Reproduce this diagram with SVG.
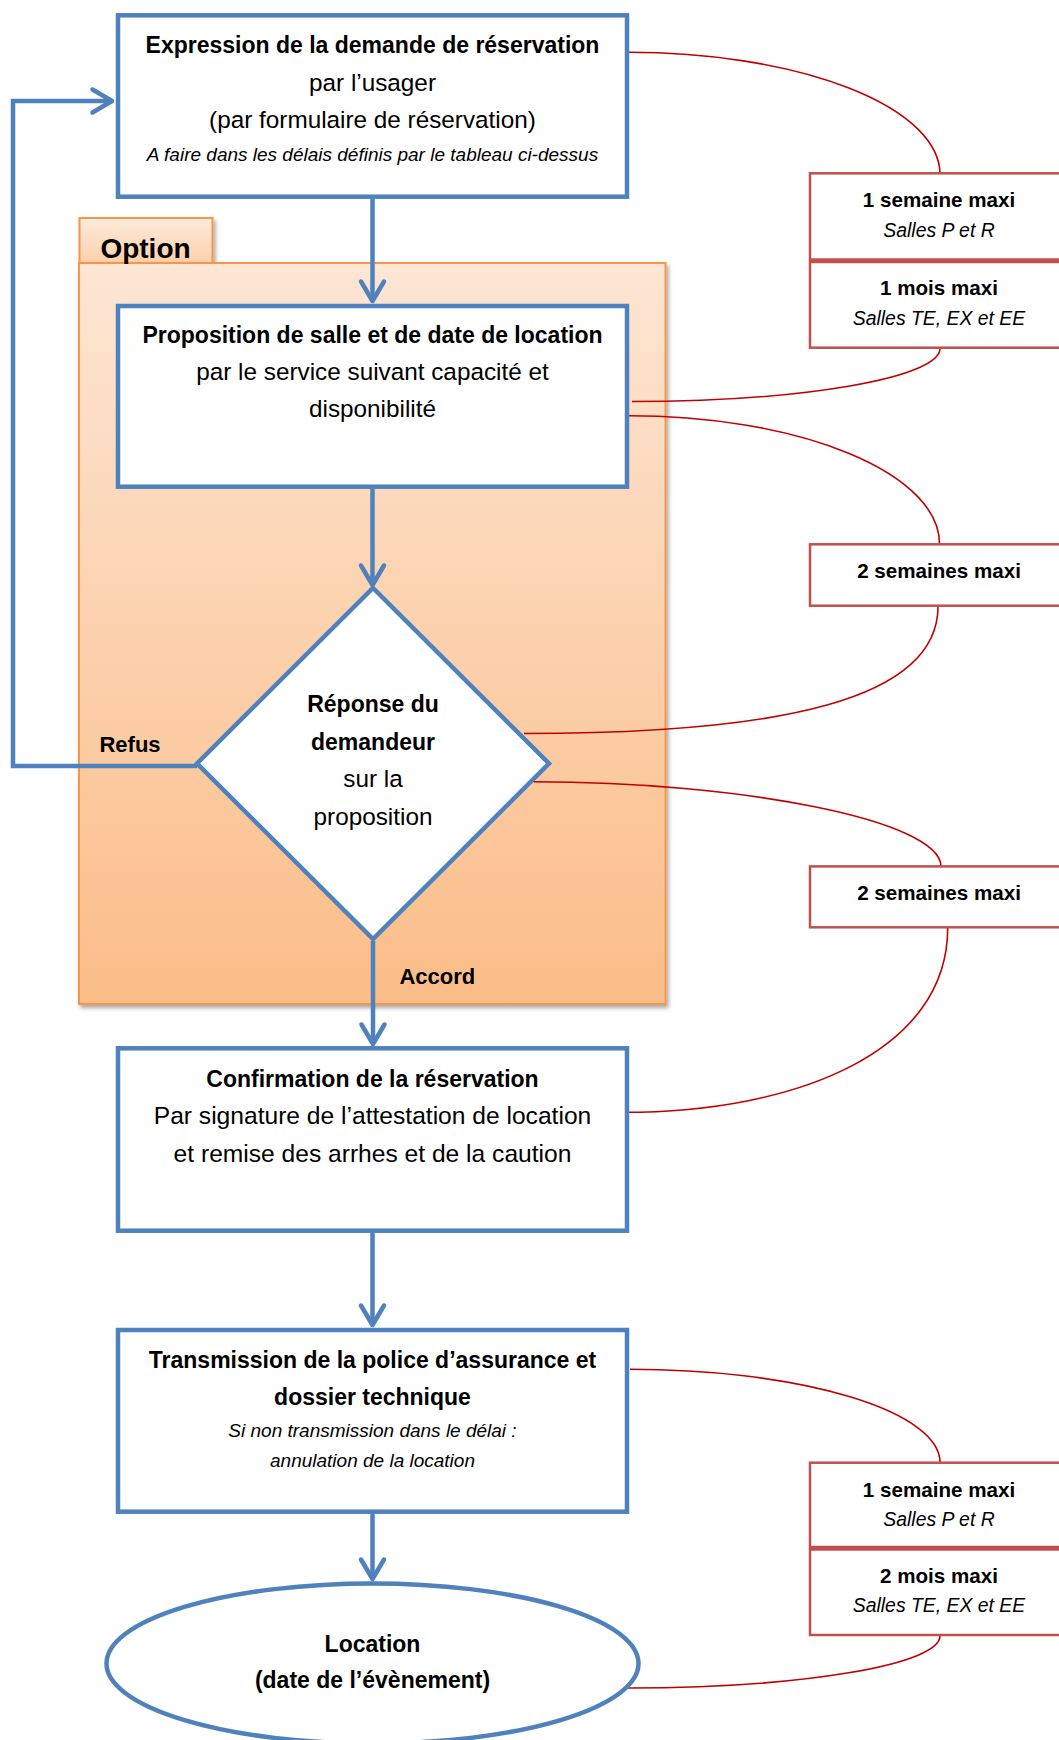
<svg xmlns="http://www.w3.org/2000/svg" width="1059" height="1740" viewBox="0 0 1059 1740">
<defs>
<style>
text{font-family:"Liberation Sans",Arial,sans-serif;fill:#000;text-anchor:middle}
.b{font-weight:bold;font-size:23px}
.r{font-size:24.3px}
.i{font-style:italic;font-size:19px}
.rb{font-weight:bold;font-size:20.6px}
.ri{font-style:italic;font-size:19.4px}
.node{fill:#fff;stroke:#4f81bd;stroke-width:4.5}
.flow{fill:none;stroke:#4f81bd;stroke-width:4.5;marker-end:url(#ah)}
.red{fill:#fff;stroke:#c0504d;stroke-width:2.5}
.div{stroke:#c0504d;stroke-width:5}
.lnk{fill:none;stroke:#c00000;stroke-width:1.6}
</style>
<linearGradient id="og" x1="0" y1="0" x2="0" y2="1">
<stop offset="0" stop-color="#fde6d4"/>
<stop offset="1" stop-color="#fbbd88"/>
</linearGradient>
<linearGradient id="tg" x1="0" y1="0" x2="0" y2="1">
<stop offset="0" stop-color="#fdebdd"/>
<stop offset="1" stop-color="#fcd0aa"/>
</linearGradient>
<filter id="sh" x="-5%" y="-5%" width="110%" height="110%">
<feDropShadow dx="2" dy="3" stdDeviation="2.2" flood-color="#000" flood-opacity="0.35"/>
</filter>
<marker id="ah" markerUnits="userSpaceOnUse" markerWidth="40" markerHeight="40" viewBox="-30 -20 40 40" refX="0" refY="0" orient="auto">
<path d="M -19.5 -11.5 L 0 0 L -19.5 11.5" fill="none" stroke="#4f81bd" stroke-width="4.5" stroke-linecap="round" stroke-linejoin="round"/>
</marker>
</defs>
<rect width="1059" height="1740" fill="#fff"/>

<g id="option">
<rect x="79.5" y="218" width="133" height="45" fill="url(#tg)" stroke="#f79646" stroke-width="2" filter="url(#sh)"/>
<rect x="79" y="263" width="586.5" height="741" fill="url(#og)" stroke="#f79646" stroke-width="2" filter="url(#sh)"/>
<text class="b" x="145.5" y="258" style="font-size:28px">Option</text>
</g>

<g id="connectors">
<path class="flow" d="M 372.5 199 V 301"/>
<path class="flow" d="M 372.5 489 V 585"/>
<path class="flow" d="M 373 941 V 1044"/>
<path class="flow" d="M 372.5 1233 V 1325"/>
<path class="flow" d="M 372.5 1514 V 1579"/>
<path class="flow" d="M 197 766 H 13 V 101 H 112"/>
<path class="lnk" d="M 629 52.3 A 311 122 0 0 1 940 174.3"/>
<path class="lnk" d="M 940 348.5 A 308 53 0 0 1 632 401.5"/>
<path class="lnk" d="M 629 415.7 A 310.5 128 0 0 1 939.5 543.7"/>
<path class="lnk" d="M 938 606.5 C 938 700 780 733.5 524 733.5"/>
<path class="lnk" d="M 533.7 781.8 C 740 781.8 941 820 941 866.5"/>
<path class="lnk" d="M 947.7 928 C 947.7 1050 800 1112.3 623 1112.3"/>
<path class="lnk" d="M 630 1369.3 A 310 93 0 0 1 940 1462.3"/>
<path class="lnk" d="M 940 1636 A 312 52 0 0 1 628 1688"/>
<text class="b" x="130" y="751.7" style="font-size:22px">Refus</text>
<text class="b" x="437.3" y="984" style="font-size:22px">Accord</text>
</g>

<g id="n-expression">
<rect class="node" x="118" y="15.3" width="509" height="181.4"/>
<text class="b" x="372.5" y="52.7">Expression de la demande de réservation</text>
<text class="r" x="372.5" y="90.7">par l’usager</text>
<text class="r" x="372.5" y="127.7">(par formulaire de réservation)</text>
<text class="i" x="372.5" y="160.7">A faire dans les délais définis par le tableau ci-dessus</text>
</g>

<g id="n-proposition">
<rect class="node" x="118" y="306" width="509" height="180.7"/>
<text class="b" x="372.5" y="343.3">Proposition de salle et de date de location</text>
<text class="r" x="372.5" y="380">par le service suivant capacité et</text>
<text class="r" x="372.5" y="417.3">disponibilité</text>
</g>

<g id="n-reponse">
<polygon class="node" points="373,588 549,763.5 373,939 197,763.5"/>
<text class="b" x="373" y="711.7">Réponse du</text>
<text class="b" x="373" y="750">demandeur</text>
<text class="r" x="373" y="787.3">sur la</text>
<text class="r" x="373" y="825">proposition</text>
</g>

<g id="n-confirmation">
<rect class="node" x="118" y="1048.3" width="509" height="182.4"/>
<text class="b" x="372.5" y="1087.3">Confirmation de la réservation</text>
<text class="r" x="372.5" y="1124" style="font-size:24.6px">Par signature de l’attestation de location</text>
<text class="r" x="372.5" y="1161.7" style="font-size:24.6px">et remise des arrhes et de la caution</text>
</g>

<g id="n-transmission">
<rect class="node" x="118" y="1330" width="509" height="181.7"/>
<text class="b" x="372.5" y="1367.7">Transmission de la police d’assurance et</text>
<text class="b" x="372.5" y="1405">dossier technique</text>
<text class="i" x="372.5" y="1437.3">Si non transmission dans le délai :</text>
<text class="i" x="372.5" y="1467.3">annulation de la location</text>
</g>

<g id="n-location">
<ellipse class="node" cx="372.5" cy="1663.5" rx="266" ry="80"/>
<text class="b" x="372.5" y="1651.7">Location</text>
<text class="b" x="372.5" y="1688.3">(date de l’évènement)</text>
</g>

<g id="d-1">
<rect class="red" x="810" y="173.3" width="260" height="174.4"/>
<line class="div" x1="810" y1="260.7" x2="1070" y2="260.7"/>
<text class="rb" x="939" y="206.7">1 semaine maxi</text>
<text class="ri" x="939" y="236.7">Salles P et R</text>
<text class="rb" x="939" y="295">1 mois maxi</text>
<text class="ri" x="939" y="325">Salles TE, EX et EE</text>
</g>

<g id="d-2">
<rect class="red" x="810" y="544.3" width="260" height="61.4"/>
<text class="rb" x="939" y="578.2">2 semaines maxi</text>
</g>

<g id="d-3">
<rect class="red" x="810" y="866.4" width="260" height="60.9"/>
<text class="rb" x="939" y="899.6">2 semaines maxi</text>
</g>

<g id="d-4">
<rect class="red" x="810" y="1462.7" width="260" height="172.3"/>
<line class="div" x1="810" y1="1548.3" x2="1070" y2="1548.3"/>
<text class="rb" x="939" y="1496.7">1 semaine maxi</text>
<text class="ri" x="939" y="1526">Salles P et R</text>
<text class="rb" x="939" y="1582.7">2 mois maxi</text>
<text class="ri" x="939" y="1611.7">Salles TE, EX et EE</text>
</g>
</svg>
